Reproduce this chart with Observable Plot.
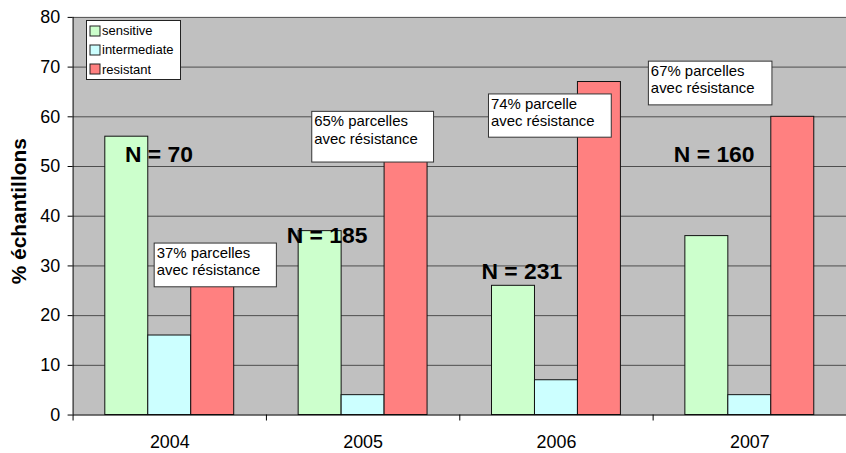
<!DOCTYPE html>
<html>
<head>
<meta charset="utf-8">
<script src="https://cdn.jsdelivr.net/npm/d3@7"></script>
<script src="https://cdn.jsdelivr.net/npm/@observablehq/plot@0.6"></script>
<style>
html, body { margin: 0; padding: 0; background: #fff; overflow: hidden; }
#wrap { position: relative; width: 846px; height: 453px; overflow: hidden; font-family: "Liberation Sans", Arial, sans-serif; }
#legend { position: absolute; left: 86px; top: 20px; width: 90px; padding-left: 3px; background: #fff; border: 1px solid #222; }
#legend .lg-swatches { margin: 0 !important; font-size: 13px !important; font-family: "Liberation Sans", Arial, sans-serif !important; color: #000; }
#legend .lg-swatch { height: 19.3px; padding: 0 !important; margin: 0 !important; display: flex; align-items: center; }
#legend .lg-swatch > svg { margin-right: 2px !important; stroke: #222; stroke-width: 1px; overflow: visible; }
</style>
</head>
<body>
<div id="wrap"><div id="chart"></div><div id="legend"></div></div>
<script>
// ---- data ----
const years = [2004, 2005, 2006, 2007];
const types = ["sensitive", "intermediate", "resistant"];
const sensitive = [56, 37, 26, 36];
const intermediate = [16, 4, 7, 4];
const resistant = [28, 59, 67, 60];
const nLabels = ["N = 70", "N = 185", "N = 231", "N = 160"];
const noteLabels = [
  "37% parcelles\navec résistance",
  "65% parcelles\navec résistance",
  "74% parcelle\navec résistance",
  "67% parcelles\navec résistance"
];
const yTicks = [0, 10, 20, 30, 40, 50, 60, 70, 80];
const yLabel = "% échantillons";

// ---- annotation placement (data coordinates) ----
const noteX1 = [2003.922, 2004.737, 2005.651, 2006.478];
const noteX2 = [2004.554, 2005.367, 2006.286, 2007.117];
const noteTop = [34.5, 61.0, 64.5, 71.1];
const noteBottom = [25.7, 50.8, 55.8, 62.3];
const nX = [2003.768, 2004.605, 2005.612, 2006.607];
const nY = [50.9, 34.7, 27.3, 50.9];

// ---- styles ----
const colors = ["#ccffcc", "#ccffff", "#ff8080"];
const font = "'Liberation Sans', Arial, sans-serif";

// ---- build tables ----
const series = {sensitive, intermediate, resistant};
const groupOffset = {sensitive: [-1/3, -1/9], intermediate: [-1/9, 1/9], resistant: [1/9, 1/3]};
const bars = years.flatMap((yr, i) => types.map(t => ({
  year: yr, type: t, value: series[t][i],
  x1: yr + groupOffset[t][0], x2: yr + groupOffset[t][1]
})));
const notes = noteLabels.map((label, i) => ({label, x1: noteX1[i], x2: noteX2[i], top: noteTop[i], bottom: noteBottom[i]}));
const nData = nLabels.map((label, i) => ({label, x: nX[i], y: nY[i]}));
const boundaries = [years[0] - 0.5, ...years.map(y => y + 0.5)];

const plot = Plot.plot({
  width: 851,
  height: 453,
  marginLeft: 73,
  marginRight: 0,
  marginTop: 17,
  marginBottom: 36,
  style: {fontFamily: font, color: "#000", background: "transparent", overflow: "visible"},
  x: {type: "linear", domain: [boundaries[0], boundaries[boundaries.length - 1]]},
  y: {domain: [0, 80]},
  color: {domain: types, range: colors},
  marks: [
    Plot.frame({fill: "#c0c0c0", stroke: null}),
    Plot.gridY(yTicks.slice(1), {stroke: "#4d4d4d", strokeOpacity: 1}),
    Plot.rectY(bars, {x1: "x1", x2: "x2", y: "value", fill: "type", stroke: "#111", strokeWidth: 1}),
    Plot.ruleX([boundaries[0]], {stroke: "#000"}),
    Plot.ruleY([0], {stroke: "#000"}),
    Plot.axisY({ticks: yTicks, tickSize: 5, tickPadding: 8, fontSize: 18, label: null, stroke: "#000"}),
    Plot.axisX({ticks: boundaries, tickSize: 6, tickFormat: () => "", label: null, stroke: "#000"}),
    Plot.axisX({ticks: years, tickSize: 0, tickPadding: 20, fontSize: 18, tickFormat: d => String(d), label: null}),
    Plot.rect(notes, {x1: "x1", x2: "x2", y1: "bottom", y2: "top", fill: "#fff", stroke: "#333"}),
    Plot.text(notes, {x: "x1", y: "top", text: "label", textAnchor: "start", lineAnchor: "top", dx: 2, dy: 2, fontSize: 15, lineHeight: 1.17, fill: "#000"}),
    Plot.text(nData, {x: "x", y: "y", text: "label", textAnchor: "start", lineAnchor: "bottom", fontSize: 23, fontWeight: "bold", fill: "#000"}),
    Plot.text([yLabel], {text: d => d, frameAnchor: "left", textAnchor: "middle", lineAnchor: "middle", dx: -54, dy: -5, rotate: -90, fontSize: 21, fontWeight: "bold", fill: "#000"})
  ]
});
document.getElementById("chart").appendChild(plot);

const legend = Plot.legend({
  color: {type: "ordinal", domain: types, range: colors},
  columns: 1,
  swatchSize: 10,
  className: "lg"
});
document.getElementById("legend").appendChild(legend);
</script>
</body>
</html>
